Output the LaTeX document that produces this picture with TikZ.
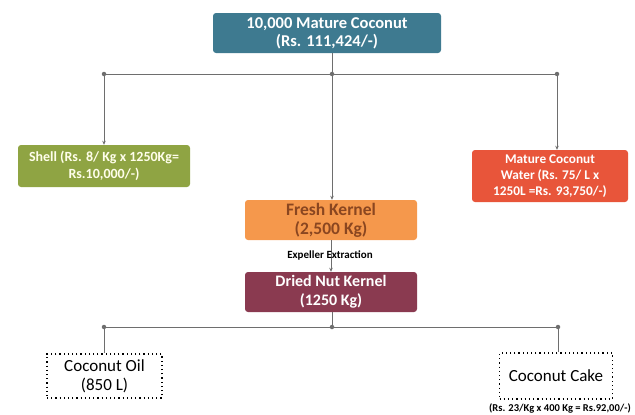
\documentclass[tikz,border=0pt]{standalone}
\usepackage{fontspec}
\setmainfont{Carlito}
\usetikzlibrary{arrows.meta}

\definecolor{topblue}{HTML}{3E7A90}
\definecolor{shellgreen}{HTML}{8FA443}
\definecolor{waterred}{HTML}{E8553A}
\definecolor{kernelorange}{HTML}{F5984C}
\definecolor{kerneltext}{HTML}{8A4620}
\definecolor{driedred}{HTML}{8A3A50}
\definecolor{linegray}{HTML}{6E6E6E}

\begin{document}
\begin{tikzpicture}[x=1pt,y=-1pt,
    box/.style={rounded corners=3pt, text=white, align=center, inner sep=0pt},
    outbox/.style={draw, line width=1.2pt, dash pattern=on 1.2pt off 3pt, align=center, inner sep=0pt},
    link/.style={draw=linegray, line width=.7pt},
    arr/.style={link, -{Stealth[length=4pt,width=3.5pt]}},
    dot/.style={circle, fill=linegray, inner sep=0pt, minimum size=4.5pt}]
  \useasboundingbox (0,0) rectangle (635,415);
  \node[box, fill=topblue, minimum width=228pt, minimum height=40pt,
        font=\bfseries\fontsize{16.5}{18}\selectfont] (coco) at (327,33)
        {10,000 Mature Coconut\\(Rs. 111,424/-)};
  \node[box, fill=shellgreen, text=white!92!yellow, minimum width=172pt, minimum height=42pt,
        font=\bfseries\fontsize{14}{17}\selectfont] (shell) at (104,166)
        {Shell (Rs. 8/ Kg x 1250Kg=\\Rs.10,000/-)};
  \node[box, fill=waterred, minimum width=156pt, minimum height=52pt,
        font=\bfseries\fontsize{13.3}{16.3}\selectfont] (water) at (550,176)
        {Mature Coconut\\Water (Rs. 75/ L x\\1250L =Rs. 93,750/-)};
  \node[box, fill=kernelorange, text=kerneltext, minimum width=172pt, minimum height=40pt,
        font=\bfseries\fontsize{17.5}{19}\selectfont] (fresh) at (331,220)
        {Fresh Kernel\\(2,500 Kg)};
  \node[box, fill=driedred, minimum width=172pt, minimum height=40pt,
        font=\bfseries\fontsize{16}{19}\selectfont] (dried) at (331,292)
        {Dried Nut Kernel\\(1250 Kg)};
  \node[outbox, minimum width=115pt, minimum height=44pt,
        font=\fontsize{17}{19}\selectfont] (oil) at (104.5,376)
        {Coconut Oil\\(850 L)};
  \node[outbox, minimum width=113pt, minimum height=46pt,
        font=\fontsize{17}{19}\selectfont] (cake) at (556,376)
        {Coconut Cake};
  \node[font=\bfseries\fontsize{10.5}{12}\selectfont] (cakeprice) at (560,408)
        {(Rs. 23/Kg x 400 Kg = Rs.92,00/-)};

  \coordinate (j1) at (332,74);
  \coordinate (jl) at (104,74);
  \coordinate (jr) at (557,74);
  \coordinate (j2) at (332,327);
  \coordinate (kl) at (104,327);
  \coordinate (kr) at (558,327);

  \draw[link] (j1 |- coco.south) -- (j1);
  \draw[link] (jl) -- (jr);
  \draw[arr] (jl) -- (jl |- shell.north);
  \draw[arr] (jr) -- (jr |- water.north);
  \draw[arr] (j1) -- (j1 |- fresh.north);
  \draw[arr] (fresh.south) -- (dried.north);
  \draw[link] (j2 |- dried.south) -- (j2);
  \draw[link] (kl) -- (kr);
  \draw[link] (kl) -- (kl |- oil.north);
  \draw[link] (kr) -- (kr |- cake.north);
  \foreach \j in {j1,jl,jr,j2,kl,kr}
    \node[dot] at (\j) {};

  \node[font=\bfseries\fontsize{11}{13}\selectfont] (expel) at (330,255)
        {Expeller Extraction};
\end{tikzpicture}
\end{document}
